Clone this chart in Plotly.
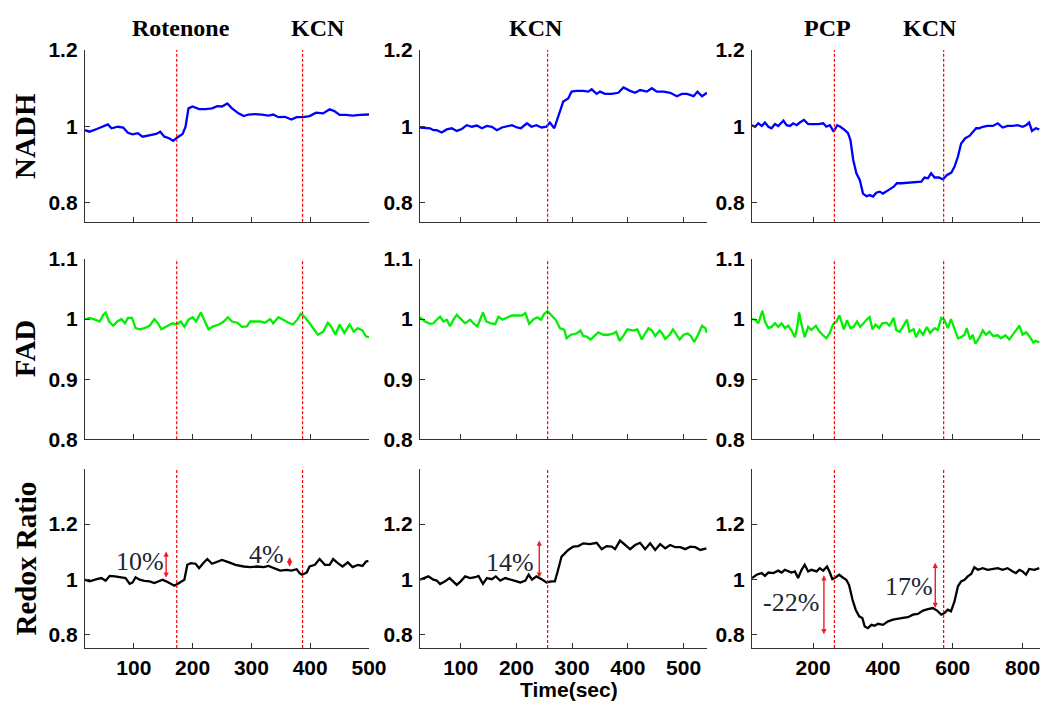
import plotly.graph_objects as go
from plotly.subplots import make_subplots

# ---------------- Rotenone + KCN experiment ----------------
rot_events = [173, 387]
rot_event_names = ["Rotenone", "KCN"]

rot_nadh_t = [17, 25, 37, 48, 56, 62, 73, 82, 90, 98, 107, 115, 127, 138, 145, 152, 160, 167, 174, 183,
              188, 193, 200, 211, 222, 233, 242, 250, 259, 267, 278, 287, 295, 306, 318, 329, 337, 346, 357, 368,
              377, 388, 399, 410, 422, 433, 441, 450, 461, 472, 484, 495, 500]
rot_nadh = [0.990, 0.986, 0.993, 0.999, 1.005, 0.995, 0.999, 0.997, 0.983, 0.979,
            0.982, 0.973, 0.977, 0.980, 0.986, 0.973, 0.969, 0.962, 0.971, 0.980,
            0.999, 1.047, 1.052, 1.045, 1.045, 1.047, 1.053, 1.052, 1.060, 1.047,
            1.034, 1.027, 1.031, 1.032, 1.031, 1.028, 1.031, 1.024, 1.025, 1.018,
            1.024, 1.024, 1.027, 1.036, 1.034, 1.045, 1.040, 1.030, 1.030, 1.028,
            1.030, 1.031, 1.031]

rot_fad_t = [17, 25, 34, 42, 48, 52, 58, 65, 72, 79, 85, 90, 97, 103, 110, 118, 127, 135, 141, 147,
             158, 166, 173, 180, 186, 193, 200, 206, 214, 219, 227, 235, 245, 253, 260, 267, 276, 284, 292, 298,
             307, 315, 323, 332, 337, 346, 354, 363, 371, 378, 384, 391, 399, 408, 413, 422, 430, 436, 443, 450,
             458, 467, 474, 481, 489, 495, 500]
rot_fad = [1.000, 1.002, 0.999, 0.996, 1.007, 1.011, 0.996, 0.989, 0.996, 1.000,
           0.993, 1.002, 1.002, 0.985, 0.983, 0.985, 0.989, 1.000, 0.993, 0.983,
           0.989, 0.993, 0.991, 0.996, 0.987, 0.999, 1.003, 0.996, 1.011, 1.000,
           0.983, 0.988, 0.991, 0.996, 1.003, 0.996, 0.994, 0.987, 0.988, 0.996,
           0.996, 0.996, 0.994, 1.000, 0.993, 1.003, 0.999, 0.994, 0.991, 0.999,
           1.009, 1.003, 0.993, 0.982, 0.974, 0.979, 0.994, 0.987, 0.974, 0.991,
           0.977, 0.991, 0.979, 0.985, 0.981, 0.971, 0.970]

rot_redox_t = [17, 25, 37, 45, 52, 59, 68, 79, 86, 93, 98, 103, 110, 118, 127, 135, 143, 149, 155, 160,
               169, 177, 186, 191, 197, 205, 211, 218, 225, 233, 242, 250, 262, 273, 287, 298, 310, 321, 329, 337,
               349, 360, 368, 377, 382, 386, 394, 399, 408, 416, 425, 433, 439, 447, 455, 464, 472, 481, 489, 495,
               499]
rot_redox = [0.998, 0.992, 1.000, 1.004, 0.994, 1.012, 1.010, 1.006, 1.004, 0.983,
             0.988, 1.007, 0.998, 0.994, 0.992, 0.986, 0.992, 0.998, 0.992, 0.986,
             0.976, 0.986, 0.998, 1.052, 1.058, 1.056, 1.040, 1.058, 1.073, 1.056,
             1.064, 1.070, 1.061, 1.052, 1.046, 1.044, 1.046, 1.044, 1.048, 1.040,
             1.031, 1.034, 1.031, 1.036, 1.022, 1.016, 1.024, 1.046, 1.052, 1.073,
             1.052, 1.052, 1.073, 1.058, 1.046, 1.061, 1.044, 1.052, 1.048, 1.064,
             1.066]

# ---------------- KCN experiment ----------------
kcn_events = [256]
kcn_event_names = ["KCN"]

kcn_nadh_t = [27, 36, 45, 51, 57, 66, 75, 84, 93, 102, 111, 120, 129, 138, 147, 156, 165, 174, 183, 192,
              201, 208, 219, 227, 236, 245, 254, 260, 268, 272, 277, 284, 293, 299, 308, 320, 329, 335, 344, 350,
              359, 371, 383, 392, 404, 413, 422, 434, 443, 452, 464, 476, 488, 497, 506, 518, 525, 533, 542]
kcn_nadh = [0.997, 0.995, 0.995, 0.990, 0.990, 0.984, 0.992, 0.995, 0.988, 0.993,
            1.003, 0.999, 1.002, 0.995, 1.001, 0.999, 0.990, 0.997, 1.001, 1.003,
            0.997, 0.995, 1.008, 0.999, 1.003, 0.997, 0.999, 1.010, 0.995, 1.012,
            1.038, 1.065, 1.073, 1.091, 1.093, 1.093, 1.091, 1.097, 1.085, 1.091,
            1.085, 1.085, 1.088, 1.102, 1.093, 1.088, 1.095, 1.091, 1.100, 1.091,
            1.091, 1.088, 1.079, 1.085, 1.085, 1.079, 1.091, 1.079, 1.088]

kcn_fad_t = [27, 36, 45, 51, 57, 63, 69, 75, 81, 87, 93, 102, 108, 117, 123, 130, 135, 140, 146, 154,
             162, 168, 175, 183, 192, 201, 210, 216, 223, 231, 238, 244, 250, 256, 263, 271, 278, 286, 290, 298,
             308, 315, 320, 326, 333, 339, 347, 356, 365, 374, 379, 385, 392, 399, 410, 417, 425, 431, 437, 443,
             449, 457, 461, 467, 475, 481, 487, 493, 500, 507, 513, 519, 525, 533, 539, 542]
kcn_fad = [1.003, 0.996, 0.992, 0.993, 0.999, 1.004, 0.996, 0.999, 0.988, 0.999,
           1.007, 0.999, 0.993, 0.999, 0.993, 0.988, 0.999, 1.011, 0.996, 0.993,
           0.992, 1.004, 0.999, 1.002, 1.006, 1.006, 1.006, 1.010, 0.992, 1.000,
           1.003, 0.999, 1.009, 1.013, 1.006, 0.998, 0.985, 0.982, 0.968, 0.974,
           0.976, 0.981, 0.972, 0.971, 0.966, 0.971, 0.978, 0.974, 0.974, 0.976,
           0.979, 0.964, 0.972, 0.983, 0.981, 0.983, 0.966, 0.976, 0.985, 0.981,
           0.972, 0.981, 0.977, 0.967, 0.974, 0.983, 0.974, 0.966, 0.974, 0.976,
           0.972, 0.962, 0.972, 0.989, 0.985, 0.977]

kcn_redox_t = [27, 36, 42, 51, 57, 63, 72, 80, 87, 93, 100, 108, 117, 126, 132, 140, 147, 156, 163, 171,
               180, 189, 198, 207, 216, 222, 228, 236, 245, 254, 263, 269, 274, 281, 293, 302, 311, 320, 332, 344,
               353, 362, 371, 377, 386, 395, 404, 413, 422, 431, 440, 449, 458, 467, 476, 485, 494, 503, 512, 521,
               530, 541]
kcn_redox = [0.998, 1.004, 1.010, 0.998, 0.995, 0.982, 0.992, 1.004, 0.992, 0.979,
             0.992, 1.010, 1.004, 1.007, 1.012, 0.983, 1.004, 1.000, 1.010, 0.995,
             1.004, 0.998, 0.992, 0.988, 0.995, 1.016, 0.998, 1.010, 1.000, 0.988,
             0.992, 0.992, 1.028, 1.082, 1.106, 1.118, 1.120, 1.130, 1.127, 1.132,
             1.109, 1.120, 1.118, 1.109, 1.140, 1.124, 1.109, 1.124, 1.132, 1.109,
             1.130, 1.106, 1.127, 1.112, 1.124, 1.116, 1.116, 1.109, 1.118, 1.116,
             1.106, 1.112]

# ---------------- PCP + KCN experiment ----------------
pcp_events = [261, 574]
pcp_event_names = ["PCP", "KCN"]

pcp_nadh_t = [25, 34, 43, 53, 62, 72, 81, 91, 100, 115, 124, 134, 143, 153, 162, 174, 186, 200, 215, 229,
              238, 248, 259, 269, 278, 291, 300, 307, 315, 324, 334, 343, 353, 362, 372, 381, 391, 400, 410, 419,
              431, 440, 453, 467, 481, 496, 510, 519, 529, 538, 548, 560, 572, 583, 596, 605, 615, 624, 636, 648,
              657, 667, 676, 686, 700, 715, 729, 743, 757, 772, 786, 800, 810, 819, 827, 838, 848]
pcp_nadh = [1.003, 0.999, 1.008, 1.001, 1.010, 0.999, 0.995, 1.006, 1.001, 1.015,
            1.003, 1.001, 1.008, 1.003, 1.010, 1.017, 1.006, 1.006, 1.006, 1.008,
            0.999, 1.003, 0.986, 1.003, 0.999, 0.990, 0.982, 0.964, 0.912, 0.877,
            0.859, 0.824, 0.817, 0.820, 0.816, 0.826, 0.829, 0.824, 0.831, 0.835,
            0.842, 0.851, 0.851, 0.852, 0.852, 0.855, 0.855, 0.866, 0.864, 0.877,
            0.866, 0.866, 0.861, 0.872, 0.879, 0.894, 0.921, 0.955, 0.969, 0.975,
            0.986, 0.995, 0.995, 0.999, 1.001, 1.001, 1.008, 0.997, 1.001, 1.001,
            1.003, 0.999, 1.003, 1.010, 0.988, 0.995, 0.992]

pcp_fad_t = [25, 34, 43, 50, 55, 62, 72, 81, 91, 100, 110, 119, 129, 138, 148, 155, 160, 167, 176, 186,
             195, 208, 217, 227, 238, 248, 257, 267, 275, 281, 288, 297, 307, 316, 326, 335, 345, 355, 362, 370,
             379, 389, 398, 410, 419, 431, 438, 448, 457, 469, 476, 488, 495, 505, 515, 526, 535, 548, 557, 567,
             576, 586, 595, 605, 615, 624, 634, 640, 650, 657, 665, 675, 686, 695, 705, 716, 729, 738, 751, 762,
             772, 781, 791, 800, 810, 819, 831, 838, 848]
pcp_fad = [1.000, 0.999, 0.993, 1.006, 1.014, 0.996, 0.985, 0.987, 0.993, 0.987,
           0.993, 0.985, 0.989, 0.981, 0.970, 0.988, 1.011, 0.991, 0.970, 0.987,
           0.982, 0.989, 0.980, 0.974, 0.968, 0.977, 0.991, 0.996, 1.006, 0.996,
           0.983, 0.998, 0.985, 0.987, 0.996, 0.987, 0.994, 1.000, 1.003, 0.983,
           0.991, 0.985, 0.993, 0.994, 0.989, 1.002, 0.982, 0.979, 0.987, 0.999,
           0.979, 0.983, 0.970, 0.982, 0.974, 0.987, 0.977, 0.985, 0.982, 1.002,
           0.999, 0.985, 1.000, 0.985, 0.968, 0.970, 0.974, 0.985, 0.966, 0.974,
           0.959, 0.968, 0.981, 0.974, 0.979, 0.972, 0.973, 0.968, 0.973, 0.966,
           0.974, 0.982, 0.989, 0.974, 0.978, 0.972, 0.961, 0.964, 0.961]

pcp_redox_t = [25, 38, 53, 62, 72, 86, 100, 110, 119, 129, 138, 148, 157, 167, 176, 186, 195, 210, 219, 229,
               240, 248, 255, 265, 275, 284, 295, 303, 313, 322, 332, 341, 348, 357, 367, 376, 386, 400, 415, 429,
               443, 457, 472, 486, 500, 515, 529, 543, 555, 567, 576, 586, 595, 605, 615, 624, 634, 643, 653, 662,
               672, 686, 700, 715, 729, 743, 757, 772, 781, 791, 800, 810, 819, 834, 848]
pcp_redox = [1.004, 1.016, 1.022, 1.012, 1.024, 1.022, 1.031, 1.024, 1.034, 1.028,
             1.024, 1.028, 1.004, 1.034, 1.052, 1.028, 1.034, 1.028, 1.040, 1.031,
             1.046, 1.024, 1.000, 1.007, 1.016, 1.007, 0.998, 0.979, 0.925, 0.889,
             0.865, 0.859, 0.828, 0.822, 0.834, 0.831, 0.838, 0.834, 0.847, 0.853,
             0.855, 0.859, 0.862, 0.871, 0.874, 0.886, 0.891, 0.895, 0.886, 0.871,
             0.877, 0.889, 0.883, 0.919, 0.974, 0.992, 0.998, 1.010, 1.019, 1.043,
             1.034, 1.040, 1.034, 1.037, 1.040, 1.034, 1.040, 1.028, 1.022, 1.034,
             1.028, 1.016, 1.037, 1.034, 1.040]

# Redox-ratio changes: (time, starting ratio, change in percent)
rot_changes = [(155, 1.00, 10), (365, 1.04, 4)]
kcn_changes = [(241, 1.00, 14)]
pcp_changes = [(231, 1.02, -22), (550, 0.89, 17)]

# Axis setup
row_names = ["NADH", "FAD", "Redox Ratio"]
row_ranges = [[0.75, 1.2], [0.8, 1.1], [0.75, 1.4]]
row_ticks = [[0.8, 1.0, 1.2], [0.8, 0.9, 1.0, 1.1], [0.8, 1.0, 1.2]]
row_ticktext = [["0.8", "1", "1.2"], ["0.8", "0.9", "1", "1.1"], ["0.8", "1", "1.2"]]
col_ranges = [[17, 500], [27, 542], [25, 850]]
col_ticks = [[100, 200, 300, 400, 500], [100, 200, 300, 400, 500], [200, 400, 600, 800]]

W, H = 1041, 701
col_px = [(85, 369), (420, 707), (752, 1040)]
row_px = [(50, 221.8), (259, 439.3), (469, 648)]

columns = [
    dict(t=[rot_nadh_t, rot_fad_t, rot_redox_t], y=[rot_nadh, rot_fad, rot_redox],
         events=rot_events, names=rot_event_names, changes=rot_changes,
         label_x=[180, 413], pct_pos=[(110, 1.064), (326, 1.088)]),
    dict(t=[kcn_nadh_t, kcn_fad_t, kcn_redox_t], y=[kcn_nadh, kcn_fad, kcn_redox],
         events=kcn_events, names=kcn_event_names, changes=kcn_changes,
         label_x=[235], pct_pos=[(189, 1.059)]),
    dict(t=[pcp_nadh_t, pcp_fad_t, pcp_redox_t], y=[pcp_nadh, pcp_fad, pcp_redox],
         events=pcp_events, names=pcp_event_names, changes=pcp_changes,
         label_x=[242, 536], pct_pos=[(138, 0.915), (476, 0.973)]),
]
line_colors = ["#0000ff", "#00f000", "#000000"]

fig = make_subplots(rows=3, cols=3, horizontal_spacing=0.02, vertical_spacing=0.02)

AX_COLOR = "#333333"
tick_font = dict(family="Liberation Sans, Arial", size=21, color="#000000", weight="bold")
serif_bold = dict(family="Liberation Serif, Times New Roman", color="#000000", weight="bold")
annotations = []
shapes = []

for c, col in enumerate(columns):
    for r in range(3):
        idx = r * 3 + c + 1
        sfx = "" if idx == 1 else str(idx)
        fig.add_trace(go.Scatter(x=col["t"][r], y=col["y"][r], mode="lines",
                                 line=dict(color=line_colors[r], width=2.3),
                                 showlegend=False, hoverinfo="skip"),
                      row=r + 1, col=c + 1)
        x0, x1 = col_px[c]
        y0, y1 = row_px[r]
        fig.layout["xaxis" + sfx].update(
            domain=[x0 / W, x1 / W], range=col_ranges[c], tickvals=col_ticks[c],
            showticklabels=(r == 2), ticks="inside", ticklen=5, tickcolor=AX_COLOR,
            showline=True, linecolor=AX_COLOR, linewidth=1.3, showgrid=False, zeroline=False,
            tickfont=tick_font, ticklabelstandoff=1, automargin=False)
        fig.layout["yaxis" + sfx].update(
            domain=[1 - y1 / H, 1 - y0 / H], range=row_ranges[r], tickvals=row_ticks[r],
            ticktext=row_ticktext[r], ticks="inside", ticklen=5, tickcolor=AX_COLOR,
            showline=True, linecolor=AX_COLOR, linewidth=1.3, showgrid=False, zeroline=False,
            tickfont=tick_font, ticklabelstandoff=2, automargin=False)
        for ev in col["events"]:
            shapes.append(dict(type="line", xref="x" + sfx, yref="y" + sfx + " domain",
                               x0=ev, x1=ev, y0=0, y1=1,
                               line=dict(color="#ff0000", width=1.2, dash="3px,2px")))

    # Treatment labels above the top row
    for name, lx in zip(col["names"], col["label_x"]):
        annotations.append(dict(x=lx, y=1 - 28 / H, xref="x" + ("" if c == 0 else str(c + 1)), yref="paper",
                                text=name, showarrow=False, xanchor="center", yanchor="middle",
                                font=dict(size=24, **serif_bold)))

    # Redox-ratio change arrows and percentages
    rsfx = str(6 + c + 1)
    for (t, base, pct), (px, py) in zip(col["changes"], col["pct_pos"]):
        annotations.append(dict(x=t, y=base + pct / 100.0, ax=t, ay=base,
                                xref="x" + rsfx, yref="y" + rsfx, axref="x" + rsfx, ayref="y" + rsfx,
                                text="", showarrow=True, arrowside="end+start", arrowhead=2,
                                arrowsize=0.75, arrowwidth=1.4, arrowcolor="#ee1c25",
                                standoff=0, startstandoff=0))
        annotations.append(dict(x=px, y=py, xref="x" + rsfx, yref="y" + rsfx,
                                text=f"{pct}%", showarrow=False, xanchor="center", yanchor="middle",
                                font=dict(family="Liberation Serif, Times New Roman", size=26,
                                          color="#1c2533")))

# Row titles
for name, (y0, y1) in zip(row_names, row_px):
    annotations.append(dict(x=25 / W, y=1 - (y0 + y1) / 2 / H, xref="paper", yref="paper",
                            text=name, showarrow=False, textangle=-90,
                            xanchor="center", yanchor="middle", font=dict(size=29, **serif_bold)))

annotations.append(dict(x=569 / W, y=1 - 689 / H, xref="paper", yref="paper", text="Time(sec)",
                        showarrow=False, xanchor="center", yanchor="middle",
                        font=dict(family="Liberation Sans, Arial", size=21, color="#000000", weight="bold")))

fig.update_layout(template="none", width=W, height=H, autosize=False,
                  margin=dict(l=0, r=0, t=0, b=0, pad=0),
                  paper_bgcolor="#ffffff", plot_bgcolor="#ffffff",
                  annotations=annotations, shapes=shapes)

fig.write_html("out.html")
